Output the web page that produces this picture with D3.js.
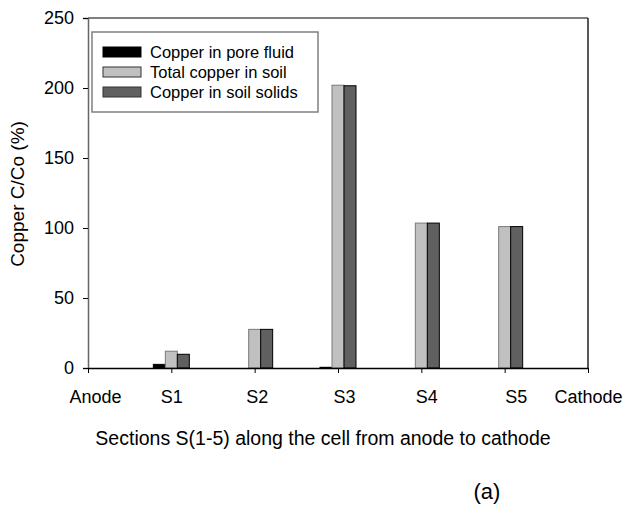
<!DOCTYPE html>
<html><head><meta charset="utf-8">
<script src="https://cdn.jsdelivr.net/npm/d3@7"></script>
<style>body{margin:0;background:#fff}svg{display:block}text{font-family:"Liberation Sans",Arial,sans-serif;fill:#000}</style>
</head><body>
<script>
// ---- data ----
const categories = ["Anode","S1","S2","S3","S4","S5","Cathode"];
const sections = ["S1","S2","S3","S4","S5"];
const poreFluid = [2.6, 0, 0.5, 0, 0];
const totalSoil = [12, 27.6, 202, 103.5, 101];
const soilSolids = [9.8, 27.6, 201.6, 103.5, 101];
const seriesNames = ["Copper in pore fluid","Total copper in soil","Copper in soil solids"];
const yTicks = [0,50,100,150,200,250];

// ---- layout ----
const W=624,H=508;
const L=88,R=588,T=18,B=368;
const fills=["#000000","#c0c0c0","#606060"];
const strokes=["#000000","#7a7a7a","#000000"];
const labelNudge=[7,0,2,6,5,11,0];

const svg=d3.select("body").append("svg").attr("width",W).attr("height",H);
const x=d3.scalePoint().domain(categories).range([L,R]);
const y=d3.scaleLinear().domain([0,250]).range([B,T]);
const bw=12;

// frame: top and right
svg.append("line").attr("x1",L).attr("x2",R).attr("y1",T).attr("y2",T).attr("stroke","#000").attr("stroke-width",1.2);
svg.append("line").attr("x1",R).attr("x2",R).attr("y1",T).attr("y2",B).attr("stroke","#222").attr("stroke-width",1.5);

// bars
const series=[poreFluid,totalSoil,soilSolids];
series.forEach((vals,si)=>{
  svg.append("g").selectAll("rect").data(sections.map((s,i)=>({s,v:vals[i]})).filter(d=>d.v>0))
   .join("rect")
   .attr("x",d=>x(d.s)-1.5*bw+si*bw)
   .attr("y",d=>y(d.v))
   .attr("width",bw)
   .attr("height",d=>y(0)-y(d.v))
   .attr("fill",fills[si]).attr("stroke",strokes[si]).attr("stroke-width",1);
});

// y axis
const ya=svg.append("g").attr("transform",`translate(${L},0)`)
  .call(d3.axisLeft(y).tickValues(yTicks).tickSize(5).tickPadding(9));
ya.select(".domain").attr("stroke","#666").attr("stroke-width",1.5);
ya.selectAll(".tick line").attr("stroke","#000");
ya.selectAll("text").style("font-size","18px").attr("font-family",null);

// x axis
const xa=svg.append("g").attr("transform",`translate(0,${B})`)
  .call(d3.axisBottom(x).tickSize(5).tickPadding(17).tickSizeOuter(0));
xa.select(".domain").attr("stroke","#000").attr("stroke-width",1.5);
xa.selectAll(".tick line").attr("stroke","#000");
xa.selectAll("text").style("font-size","18px").attr("font-family",null)
  .attr("dx",(d,i)=>labelNudge[i]);

// axis titles
svg.append("text").attr("transform","translate(24,194) rotate(-90)")
  .attr("text-anchor","middle").style("font-size","19px").text("Copper C/Co (%)");
svg.append("text").attr("x",323).attr("y",445).attr("text-anchor","middle")
  .style("font-size","19.5px").text("Sections S(1-5) along the cell from anode to cathode");
svg.append("text").attr("x",487).attr("y",499).attr("text-anchor","middle")
  .style("font-size","22px").text("(a)");

// legend
const lg=svg.append("g");
lg.append("rect").attr("x",92).attr("y",32).attr("width",226).attr("height",80)
  .attr("fill","#fff").attr("stroke","#808080").attr("stroke-width",1.5);
seriesNames.forEach((n,i)=>{
  const cy=52+i*20;
  lg.append("rect").attr("x",103).attr("y",cy-5).attr("width",38).attr("height",10)
    .attr("fill",fills[i]).attr("stroke",i===0?"#000":"#333").attr("stroke-width",1);
  lg.append("text").attr("x",150).attr("y",cy+6).style("font-size","16.5px").text(n);
});
</script>
</body></html>
